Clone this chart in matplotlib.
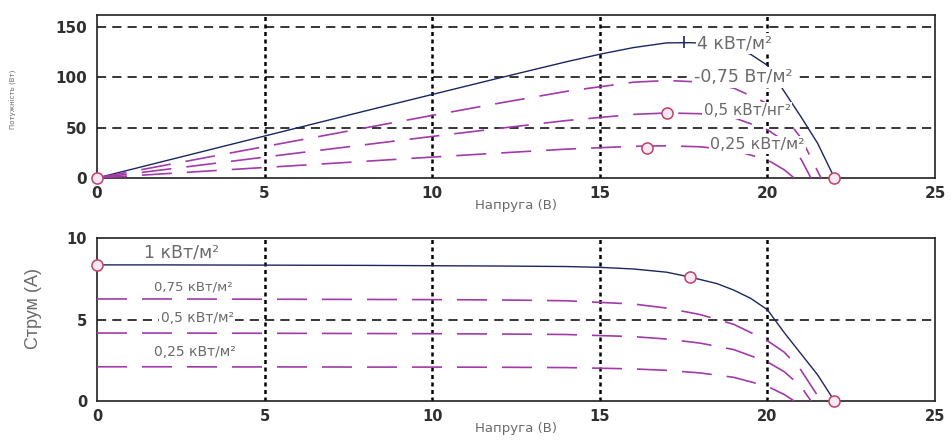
import matplotlib
matplotlib.use("Agg")
import matplotlib.pyplot as plt

# ---------------- data ----------------
# Voltage grids (V) and currents (A) for each irradiance level
V_100 = [0, 2, 4, 6, 8, 10, 12, 14, 15, 16, 17, 17.7, 18.5, 19, 19.5, 20, 20.5, 21, 21.5, 22]
I_100 = [8.35, 8.35, 8.34, 8.33, 8.32, 8.3, 8.28, 8.25, 8.2, 8.1, 7.9, 7.6, 7.2, 6.8, 6.3, 5.6, 4.2, 2.9, 1.6, 0]
P_100 = [0, 16.7, 33.4, 50, 66.6, 83, 99.4, 115.5, 123, 129.6, 134.3, 134.5, 133.2, 129.2, 122.9, 112, 86.1, 60.9, 34.4, 0]

V_075 = [0, 2, 4, 6, 8, 10, 12, 14, 16, 17, 18, 19, 20, 20.5, 21, 21.6]
I_075 = [6.26, 6.26, 6.25, 6.24, 6.23, 6.22, 6.2, 6.15, 5.95, 5.7, 5.3, 4.7, 3.7, 3.0, 1.9, 0]
P_075 = [0, 12.5, 25, 37.4, 49.8, 62.2, 74.4, 86.1, 95.2, 96.9, 95.4, 89.3, 74, 61.5, 39.9, 0]

V_050 = [0, 2, 4, 6, 8, 10, 12, 14, 16, 17, 18, 19, 20, 20.5, 21, 21.3]
I_050 = [4.17, 4.17, 4.16, 4.15, 4.14, 4.13, 4.11, 4.08, 3.95, 3.8, 3.55, 3.15, 2.4, 1.8, 0.9, 0]
P_050 = [0, 8.3, 16.6, 24.9, 33.1, 41.3, 49.3, 57.1, 63.2, 64.6, 63.9, 59.9, 48, 36.9, 18.9, 0]

V_025 = [0, 2, 4, 6, 8, 10, 12, 14, 16, 17, 18, 19, 20, 20.5, 20.8]
I_025 = [2.1, 2.1, 2.09, 2.09, 2.08, 2.08, 2.07, 2.05, 1.97, 1.88, 1.72, 1.45, 0.9, 0.4, 0]
P_025 = [0, 4.2, 8.4, 12.5, 16.6, 20.8, 24.8, 28.7, 31.5, 32, 31, 27.6, 18, 8.2, 0]

# marked points
P_marks_V = [0, 22, 16.4, 17.0]
P_marks_P = [0, 0, 30, 65]
P_peak_V, P_peak_P = 17.5, 135
I_marks_V = [0, 17.7, 22]
I_marks_I = [8.35, 7.6, 0]

# labels
top_labels = ["4 кВт/м²", "-0,75 Вт/м²", "0,5 кВт/нг²", "0,25 кВт/м²"]
top_label_pos = [(17.9, 134), (17.8, 100), (18.1, 67), (18.3, 33)]
top_label_size = [12.5, 12.5, 11, 11.5]
bot_labels = ["1 кВт/м²", "0,75 кВт/м²", "0,5 кВт/м²", "0,25 кВт/м²"]
bot_label_pos = [(1.4, 9.1), (1.7, 7.0), (1.9, 5.1), (1.7, 3.0)]
bot_label_size = [12.5, 9.5, 10, 10]

x_ticks = [0, 5, 10, 15, 20, 25]
top_yticks = [0, 50, 100, 150]
bot_yticks = [0, 5, 10]
x_label = "Напруга (В)"
top_ylabel = "Потужність (Вт)"
bot_ylabel = "Струм (А)"

# ---------------- style ----------------
plt.rcParams['font.family'] = ['DejaVu Sans']
SOLID = '#1c2560'
DASH = '#a23aaa'
TXT = '#6a6a6a'
TICK = '#2f2f2f'

fig = plt.figure(figsize=(9.52, 4.42), dpi=100)
ax1 = fig.add_axes([97/952, 1 - 178/442, 838/952, 163/442])
ax2 = fig.add_axes([97/952, 1 - 401/442, 838/952, 163/442])

def grid(ax, hlines):
    for x in [5, 10, 15, 20]:
        ax.axvline(x, color='k', lw=1.8, linestyle=(0, (1.6, 1.4)), zorder=1)
    for y in hlines:
        ax.axhline(y, color='k', lw=1.1, linestyle=(0, (6, 4)), zorder=1)

def dashed(ax, x, y):
    ax.plot(x, y, color=DASH, lw=1.2, dashes=(18, 9), zorder=3)

def style(ax, ylim, yticks, tick_size, ypad):
    ax.set_xlim(0, 25)
    ax.set_ylim(*ylim)
    ax.set_xticks(x_ticks)
    ax.set_yticks(yticks)
    ax.tick_params(length=0, labelsize=tick_size, colors=TICK)
    ax.tick_params(axis='y', pad=ypad)
    ax.tick_params(axis='x', pad=6)
    for lab in ax.get_xticklabels() + ax.get_yticklabels():
        lab.set_fontweight('bold')
    for s in ax.spines.values():
        s.set_linewidth(1.2)
        s.set_color('#202020')
    ax.set_xlabel(x_label, fontsize=9.5, color=TXT)
    ax.xaxis.set_label_coords(0.5, -0.13)

# ---- top: power ----
grid(ax1, [50, 100, 150])
ax1.plot(V_100, P_100, color=SOLID, lw=1.0, zorder=3)
dashed(ax1, V_075, P_075)
dashed(ax1, V_050, P_050)
dashed(ax1, V_025, P_025)
ax1.plot(P_marks_V, P_marks_P, 'o', ms=8, mfc='#fae8f4', mec='#c0406a', mew=1.1, ls='none', zorder=6, clip_on=False)
ax1.plot([P_peak_V], [P_peak_P], '|', ms=8, color=SOLID, mew=1.2, zorder=6)
for t, (x, y), s in zip(top_labels, top_label_pos, top_label_size):
    ax1.text(x, y, t, fontsize=s, color=TXT, ha='left', va='center', zorder=5,
             bbox=dict(facecolor='white', edgecolor='none', pad=1.0))
style(ax1, (0, 162), top_yticks, 11, 7)
ax1.set_ylabel(top_ylabel, fontsize=5, color=TXT)
ax1.yaxis.set_label_coords(-0.095, 0.48)

# ---- bottom: current ----
grid(ax2, [5])
ax2.plot(V_100, I_100, color=SOLID, lw=1.0, zorder=3)
dashed(ax2, V_075, I_075)
dashed(ax2, V_050, I_050)
dashed(ax2, V_025, I_025)
ax2.plot(I_marks_V, I_marks_I, 'o', ms=8, mfc='#fae8f4', mec='#c0406a', mew=1.1, ls='none', zorder=6, clip_on=False)
for t, (x, y), s in zip(bot_labels, bot_label_pos, bot_label_size):
    ax2.text(x, y, t, fontsize=s, color=TXT, ha='left', va='center', zorder=5,
             bbox=dict(facecolor='white', edgecolor='none', pad=1.0))
style(ax2, (0, 10), bot_yticks, 10.5, 7)
ax2.set_ylabel(bot_ylabel, fontsize=13, color=TXT, family=['Liberation Sans Narrow', 'Liberation Sans', 'DejaVu Sans'])
ax2.yaxis.set_label_coords(-0.066, 0.57)

fig.savefig("out.png", dpi=100, facecolor='white')
